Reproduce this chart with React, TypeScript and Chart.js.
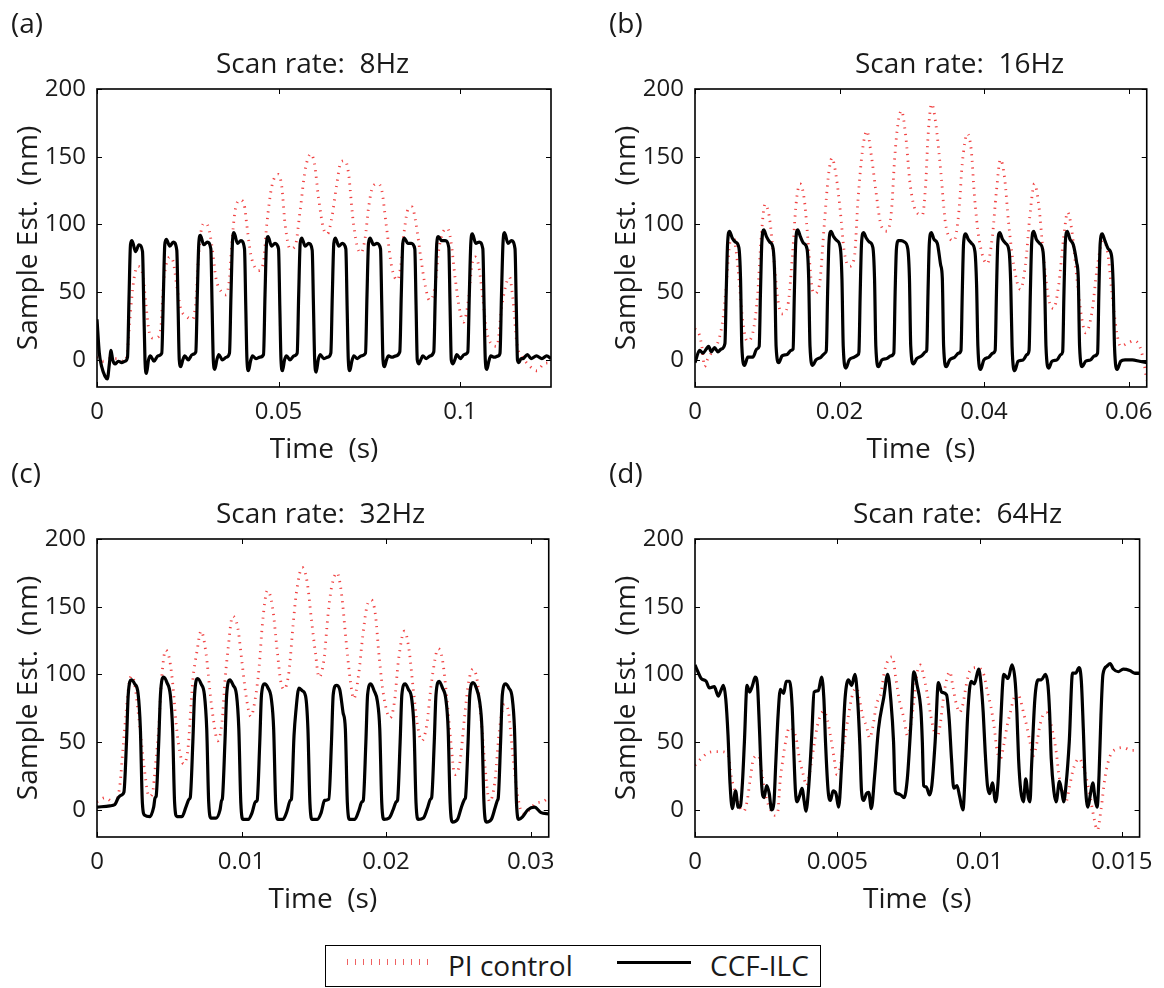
import React, { useEffect, useRef } from "react";
import { Chart, registerables } from "chart.js";
Chart.register(...registerables);

const FONT = "'Open Sans', 'Noto Sans', sans-serif";
const TEXT = "#1a1a1a";
const RED = "rgba(238, 40, 40, 0.88)";

const Y_TICKS = [0, 50, 100, 150, 200];
const Y_LABELS = ["0", "50", "100", "150", "200"];
const Y_MIN = -20;
const Y_MAX = 200;
const X_TITLE = "Time  (s)";
const Y_TITLE = "Sample Est.  (nm)";

// ---------- panel (a) ----------
const A_TITLE = "Scan rate:  8Hz";
const A_XMAX = 0.125;
const A_XTICKS = [0, 0.05, 0.1];
const A_XLABELS = ["0", "0.05", "0.1"];
const A_PI: [number, number][] = [
  [0,2],[0.00174,-1],[0.00358,1],[0.00542,1],[0.00725,-1],[0.00817,2],[0.00891,25],[0.00955,45],[0.01019,60],[0.01111,69],[0.01203,68],[0.01276,60],[0.0135,40],[0.01442,20],[0.01552,16],[0.0169,17],[0.01763,25],[0.01827,55],[0.01901,70],[0.02011,76],[0.02103,72],[0.02195,55],[0.02305,38],[0.0247,32],[0.02636,30],[0.02727,45],[0.02792,75],[0.02865,95],[0.02975,101],[0.03067,98],[0.03159,85],[0.03278,60],[0.03434,50],[0.03554,48],[0.03646,60],[0.0371,85],[0.03802,110],[0.0394,118],[0.0405,115],[0.04123,100],[0.04233,78],[0.04353,68],[0.04445,66],[0.04582,72],[0.04674,100],[0.04812,128],[0.04996,137],[0.05087,128],[0.05179,100],[0.05317,82],[0.05455,84],[0.05592,110],[0.0573,140],[0.05886,152],[0.05987,145],[0.06098,120],[0.06235,97],[0.06345,93],[0.06465,105],[0.06603,130],[0.06713,146],[0.06832,147],[0.06924,138],[0.07043,105],[0.07154,85],[0.07264,79],[0.07383,90],[0.07475,112],[0.07594,128],[0.07723,130],[0.07842,125],[0.07962,100],[0.08118,68],[0.08274,59],[0.08366,70],[0.08458,95],[0.08577,112],[0.08669,113],[0.08788,100],[0.08917,75],[0.09036,55],[0.09155,44],[0.09312,55],[0.09403,80],[0.09541,95],[0.09651,97],[0.09743,88],[0.09863,60],[0.1,35],[0.10092,28],[0.1023,45],[0.10322,70],[0.10414,76],[0.10505,70],[0.10625,45],[0.10735,20],[0.1101,10],[0.11148,40],[0.11286,58],[0.11359,61],[0.11451,45],[0.11561,12],[0.11699,3],[0.11929,-5],[0.12112,-8],[0.12296,-3],[0.125,-2],
];
const A_ILC: [number, number][] = [
  [0,30],[0.00064,5],[0.00129,-5],[0.0022,-12],[0.00285,-14],[0.0034,-3],[0.00386,7],[0.00432,0],[0.00496,-3],[0.00588,-1],[0.0068,-2],[0.0077,-1],
  [0.0084,2],[0.00881,45],[0.00922,85],[0.00964,88],[0.0106,80],[0.01156,85],[0.01253,80],[0.01288,40],[0.01321,0],[0.01363,-10],[0.01418,0],[0.01473,3],[0.01569,-1],[0.01679,3],
  [0.01784,5],[0.01825,45],[0.01866,85],[0.01908,89],[0.02004,84],[0.021,87],[0.02197,81],[0.02232,40],[0.02265,0],[0.02307,-5],[0.02362,0],[0.02417,3],[0.02513,0],[0.02623,4],
  [0.02721,6],[0.02762,48],[0.02803,86],[0.02845,92],[0.02941,85],[0.03037,87],[0.03134,82],[0.03169,40],[0.03202,0],[0.03244,-7],[0.03299,0],[0.03354,4],[0.0345,0],[0.0356,2],
  [0.03648,5],[0.03689,48],[0.0373,87],[0.03772,94],[0.03868,86],[0.03964,88],[0.04061,82],[0.04096,40],[0.04129,0],[0.04171,-8],[0.04226,-1],[0.04281,3],[0.04377,1],[0.04487,2],
  [0.04585,4],[0.04626,48],[0.04667,86],[0.04709,91],[0.04805,84],[0.04901,86],[0.04998,82],[0.05033,40],[0.05066,0],[0.05108,-8],[0.05163,0],[0.05218,3],[0.05314,0],[0.05424,3],
  [0.05512,5],[0.05553,48],[0.05594,86],[0.05636,90],[0.05732,84],[0.05828,86],[0.05925,81],[0.0596,40],[0.05993,0],[0.06035,-9],[0.0609,0],[0.06145,4],[0.06241,1],[0.06351,2],
  [0.06438,5],[0.06479,48],[0.0652,86],[0.06562,90],[0.06658,84],[0.06754,86],[0.06851,82],[0.06886,40],[0.06919,0],[0.06961,-8],[0.07016,-1],[0.07071,3],[0.07167,1],[0.07277,3],
  [0.07393,5],[0.07434,48],[0.07475,86],[0.07517,90],[0.07613,85],[0.07709,86],[0.07806,82],[0.07841,40],[0.07874,0],[0.07916,-5],[0.07971,0],[0.08026,3],[0.08122,2],[0.08232,3],
  [0.08337,6],[0.08378,48],[0.08419,86],[0.08461,90],[0.08557,86],[0.08653,86],[0.0875,82],[0.08785,40],[0.08818,0],[0.0886,-3],[0.08915,0],[0.0897,3],[0.09066,1],[0.09176,3],
  [0.09273,6],[0.09314,48],[0.09355,86],[0.09397,91],[0.09493,88],[0.09589,88],[0.09686,83],[0.09721,40],[0.09754,0],[0.09796,-3],[0.09851,0],[0.09906,4],[0.10002,1],[0.10112,4],
  [0.1021,6],[0.10251,48],[0.10292,86],[0.10334,93],[0.1043,86],[0.10526,87],[0.10623,82],[0.10658,40],[0.10691,0],[0.10733,-7],[0.10788,-1],[0.10843,3],[0.10939,2],[0.11049,3],
  [0.11096,5],[0.11137,48],[0.11178,86],[0.1122,94],[0.11316,86],[0.11412,88],[0.11509,82],[0.11544,40],[0.11577,0],[0.11619,-2],[0.11674,1],[0.11729,1],[0.1185,4],[0.1195,1],[0.121,3],[0.1225,1],[0.1238,3],[0.125,1],
];

// ---------- panel (b) ----------
const B_TITLE = "Scan rate:  16Hz";
const B_XMAX = 0.0625;
const B_XTICKS = [0, 0.02, 0.04, 0.06];
const B_XLABELS = ["0", "0.02", "0.04", "0.06"];
const B_PI: [number, number][] = [
  [0,23],[0.00064,18],[0.00097,9],[0.00133,-5],[0.0017,0],[0.00225,5],[0.00294,10],[0.0034,17],[0.00386,30],[0.00432,55],[0.00478,85],[0.00524,92],[0.0057,80],[0.00616,55],[0.00662,28],[0.00722,14],[0.008,20],[0.00869,50],[0.00915,90],[0.0097,115],[0.0103,105],[0.0109,75],[0.01145,45],[0.012,34],[0.01283,40],[0.01352,80],[0.01398,115],[0.01453,130],[0.01513,118],[0.01568,85],[0.01614,55],[0.01651,49],[0.0172,55],[0.01789,100],[0.01844,135],[0.01895,149],[0.01955,135],[0.0201,110],[0.02065,80],[0.02134,69],[0.02203,75],[0.02258,120],[0.02318,155],[0.02378,169],[0.02442,150],[0.02502,125],[0.02571,100],[0.02654,95],[0.02718,110],[0.02764,150],[0.0281,175],[0.02856,184],[0.02916,165],[0.02976,130],[0.03054,110],[0.03146,107],[0.03192,130],[0.03224,165],[0.03274,189],[0.0333,175],[0.03399,140],[0.03468,100],[0.03583,88],[0.03652,110],[0.03698,145],[0.03767,167],[0.03822,155],[0.03868,120],[0.03928,90],[0.04043,71],[0.04112,90],[0.04171,125],[0.04226,148],[0.04282,135],[0.04341,100],[0.0441,70],[0.04502,52],[0.04571,70],[0.0464,110],[0.04696,130],[0.04755,115],[0.04824,75],[0.04893,45],[0.04962,38],[0.05031,55],[0.051,90],[0.05155,109],[0.05215,95],[0.05284,60],[0.05353,30],[0.05404,20],[0.05491,35],[0.05569,70],[0.05643,88],[0.05707,80],[0.05767,50],[0.05836,20],[0.05887,10],[0.05974,12],[0.06066,14],[0.06135,12],[0.06204,0],[0.0625,-15],
];
const B_ILC: [number, number][] = [
  [0,-2],[0.00064,7],[0.0011,5],[0.00156,8],[0.00189,10],[0.00225,6],[0.00271,9],[0.00317,6],[0.00363,8],
  [0.00414,12],[0.00432,50],[0.0045,85],[0.00478,95],[0.00515,90],[0.00561,87],[0.00607,83],[0.0063,60],[0.00648,10],[0.00685,-4],[0.00731,2],[0.008,2],[0.00855,8],
  [0.00888,10],[0.00906,50],[0.00924,86],[0.00952,96],[0.00989,91],[0.01035,87],[0.01081,82],[0.01104,60],[0.01122,10],[0.01159,-2],[0.01205,3],[0.01274,4],[0.01329,7],
  [0.01357,8],[0.01375,50],[0.01393,86],[0.01421,96],[0.01458,91],[0.01504,86],[0.0155,82],[0.01573,60],[0.01591,10],[0.01628,-4],[0.01674,0],[0.01743,2],[0.01798,5],
  [0.01817,7],[0.01835,50],[0.01853,86],[0.01881,95],[0.01918,91],[0.01964,88],[0.0201,83],[0.02033,60],[0.02051,10],[0.02088,-6],[0.02134,0],[0.02203,2],[0.02258,4],
  [0.02268,6],[0.02286,50],[0.02304,86],[0.02332,94],[0.02369,90],[0.02415,87],[0.02461,83],[0.02484,60],[0.02502,10],[0.02539,-5],[0.02585,0],[0.02654,1],[0.02709,3],
  [0.02751,5],[0.02769,50],[0.02787,82],[0.02815,88],[0.02852,88],[0.02898,87],[0.02944,82],[0.02967,60],[0.02985,10],[0.03022,-3],[0.03068,1],[0.03137,3],[0.03192,6],
  [0.03206,7],[0.03224,50],[0.03242,86],[0.0327,94],[0.03307,89],[0.03353,86],[0.03399,70],[0.03422,60],[0.0344,10],[0.03477,-5],[0.03523,0],[0.03592,2],[0.03647,5],
  [0.0368,7],[0.03698,50],[0.03716,86],[0.03744,93],[0.03781,89],[0.03827,86],[0.03873,80],[0.03896,55],[0.03914,10],[0.03951,-7],[0.03997,0],[0.04066,2],[0.04121,5],
  [0.04153,7],[0.04171,50],[0.04189,86],[0.04217,94],[0.04254,89],[0.043,86],[0.04346,80],[0.04369,55],[0.04387,10],[0.04424,-8],[0.0447,-1],[0.04539,0],[0.04594,4],
  [0.04622,7],[0.0464,50],[0.04658,86],[0.04686,95],[0.04723,89],[0.04769,86],[0.04815,80],[0.04838,55],[0.04856,10],[0.04893,-6],[0.04939,-1],[0.05008,0],[0.05063,4],
  [0.05087,6],[0.05105,50],[0.05123,86],[0.05151,95],[0.05188,89],[0.05234,85],[0.0528,72],[0.05303,60],[0.05321,10],[0.05358,-5],[0.05404,-1],[0.05473,0],[0.05528,3],
  [0.0557,5],[0.05588,50],[0.05606,86],[0.05634,93],[0.05671,88],[0.05717,82],[0.05763,77],[0.05786,55],[0.05804,10],[0.05841,-7],[0.0589,-1],[0.0595,0],[0.0605,0],[0.0615,-1],[0.0625,-2],
];

// ---------- panel (c) ----------
const C_TITLE = "Scan rate:  32Hz";
const C_XMAX = 0.03125;
const C_XTICKS = [0, 0.01, 0.02, 0.03];
const C_XLABELS = ["0", "0.01", "0.02", "0.03"];
const C_PI: [number, number][] = [
  [0,6],[0.00055,9],[0.00124,5],[0.00158,18],[0.00181,47],[0.00204,75],[0.00223,94],[0.00239,99],[0.00262,92],[0.00284,73],[0.00307,50],[0.0033,28],[0.0036,10],[0.00383,12],[0.00406,35],[0.00427,60],[0.00445,94],[0.00475,118],[0.00502,111],[0.00525,92],[0.00548,63],[0.00571,44],[0.00599,34],[0.00629,45],[0.00663,96],[0.0069,116],[0.0072,132],[0.00755,115],[0.00782,87],[0.00805,67],[0.00835,51],[0.00865,65],[0.00885,95],[0.00904,116],[0.00938,143],[0.00973,135],[0.01002,110],[0.0103,85],[0.01064,69],[0.01099,85],[0.01122,106],[0.01145,138],[0.01179,162],[0.01214,150],[0.01248,116],[0.01271,95],[0.01294,89],[0.01328,102],[0.01356,136],[0.01379,160],[0.0142,179],[0.01454,168],[0.01484,140],[0.01512,115],[0.01535,98],[0.01569,110],[0.01599,145],[0.01622,164],[0.01661,175],[0.01691,160],[0.01723,125],[0.01753,95],[0.01776,82],[0.0181,100],[0.01838,128],[0.01867,150],[0.01897,155],[0.01925,145],[0.01952,113],[0.01982,85],[0.02028,68],[0.02058,80],[0.02085,110],[0.02127,132],[0.02159,118],[0.02189,88],[0.02218,62],[0.02246,51],[0.0228,62],[0.02315,95],[0.02361,119],[0.02388,112],[0.02418,85],[0.02448,50],[0.02475,26],[0.0251,35],[0.02544,70],[0.02572,95],[0.02601,104],[0.02631,95],[0.02659,65],[0.02686,30],[0.02716,6],[0.02751,20],[0.02785,60],[0.02819,78],[0.02847,72],[0.02877,40],[0.02911,10],[0.02945,-3],[0.02991,0],[0.03037,5],[0.03083,6],[0.03125,9],
];
const C_ILC: [number, number][] = [
  [0,2],[0.00089,3],[0.00124,4],[0.00147,9],[0.0017,11],
  [0.00186,13],[0.00204,50],[0.00216,85],[0.00238,96],[0.00261,93],[0.00284,86],[0.003,60],[0.00314,5],[0.0033,-4],[0.00365,-5],[0.00392,2],[0.00402,9],
  [0.00409,10],[0.00427,50],[0.00439,85],[0.00461,98],[0.00484,94],[0.00507,85],[0.00523,60],[0.00537,5],[0.00553,-5],[0.00588,-5],[0.00615,2],[0.00638,8],
  [0.00645,9],[0.00663,50],[0.00675,85],[0.00697,97],[0.0072,93],[0.00743,85],[0.00759,60],[0.00773,5],[0.00789,-6],[0.00824,-6],[0.00851,0],[0.00862,7],
  [0.00867,8],[0.00885,50],[0.00897,85],[0.00919,96],[0.00942,92],[0.00965,85],[0.00981,60],[0.00995,5],[0.01011,-7],[0.01046,-7],[0.01073,-2],[0.01096,6],
  [0.01108,7],[0.01126,50],[0.01138,85],[0.0116,93],[0.01183,90],[0.01206,82],[0.01222,60],[0.01236,5],[0.01252,-7],[0.01287,-7],[0.01314,-1],[0.01337,7],
  [0.01345,8],[0.01363,55],[0.01375,72],[0.01397,90],[0.0142,88],[0.01443,84],[0.01459,60],[0.01473,5],[0.01489,-7],[0.01524,-7],[0.01551,-2],[0.01574,7],
  [0.01604,8],[0.01622,50],[0.01634,85],[0.01656,92],[0.01679,89],[0.01702,72],[0.01718,60],[0.01732,5],[0.01748,-7],[0.01783,-7],[0.0181,-1],[0.01833,6],
  [0.01842,7],[0.0186,50],[0.01872,85],[0.01894,93],[0.01917,88],[0.0194,80],[0.01956,60],[0.0197,5],[0.01986,-7],[0.02021,-6],[0.02048,0],[0.02071,6],
  [0.02079,7],[0.02097,50],[0.02109,85],[0.02131,93],[0.02154,89],[0.02177,82],[0.02193,60],[0.02207,5],[0.02223,-7],[0.02258,-6],[0.02285,1],[0.02308,8],
  [0.02315,9],[0.02333,50],[0.02345,85],[0.02367,95],[0.0239,90],[0.02413,82],[0.02429,60],[0.02443,5],[0.02459,-9],[0.02494,-7],[0.02521,2],[0.02544,8],
  [0.02549,9],[0.02567,50],[0.02579,85],[0.02601,94],[0.02624,90],[0.02647,80],[0.02663,60],[0.02677,5],[0.02693,-9],[0.02728,-7],[0.02755,2],[0.0277,7],
  [0.02776,9],[0.02792,50],[0.02804,85],[0.02826,93],[0.02849,90],[0.02872,83],[0.02888,60],[0.02902,5],[0.02918,-7],[0.02945,-5],[0.0298,0],[0.03026,2],[0.03072,-2],[0.03125,-3],
];

// ---------- panel (d) ----------
const D_TITLE = "Scan rate:  64Hz";
const D_XMAX = 0.015625;
const D_XTICKS = [0, 0.005, 0.01, 0.015];
const D_XLABELS = ["0", "0.005", "0.01", "0.015"];
const D_PI: [number, number][] = [
  [0,33],[0.000218,38],[0.000448,42],[0.000678,43],[0.000908,43],[0.001115,42],[0.001196,38],[0.001253,28],[0.001311,21],[0.00146,10],[0.001598,1],[0.001713,-1],[0.001828,6],[0.001943,23],[0.002058,38],[0.00223,40],[0.002311,33],[0.00238,23],[0.00246,13],[0.002575,4],[0.00269,-1],[0.002805,-4],[0.00292,0],[0.002978,18],[0.003093,38],[0.003208,53],[0.003323,61],[0.003438,59],[0.003553,53],[0.003668,38],[0.003783,28],[0.00392,18],[0.004035,28],[0.004185,48],[0.0043,62],[0.004415,70],[0.00453,73],[0.004645,67],[0.00476,55],[0.004875,40],[0.00499,26],[0.005105,32],[0.00522,47],[0.005335,62],[0.00545,77],[0.005565,87],[0.00568,90],[0.005794,80],[0.005909,68],[0.006024,62],[0.006139,53],[0.006254,62],[0.006369,77],[0.006542,87],[0.006657,102],[0.006829,112],[0.006944,113],[0.007059,97],[0.007174,82],[0.007347,67],[0.007462,55],[0.007577,62],[0.007691,80],[0.007806,101],[0.007921,107],[0.008036,99],[0.008151,87],[0.008266,72],[0.008381,60],[0.008496,53],[0.008611,62],[0.008726,82],[0.008841,96],[0.008956,102],[0.009071,90],[0.009186,78],[0.009301,72],[0.009416,78],[0.009531,92],[0.009646,102],[0.009876,105],[0.010048,104],[0.010163,99],[0.010278,87],[0.010393,77],[0.010508,62],[0.010623,43],[0.010738,38],[0.010853,48],[0.010968,62],[0.011083,72],[0.011198,82],[0.011313,87],[0.011428,82],[0.011543,72],[0.011658,62],[0.011773,50],[0.011888,40],[0.012003,48],[0.012118,62],[0.012233,70],[0.012348,72],[0.012463,67],[0.012578,57],[0.012693,43],[0.012808,23],[0.012923,13],[0.013038,6],[0.013153,16],[0.013268,28],[0.013382,35],[0.013497,38],[0.01367,30],[0.013842,15],[0.014015,-5],[0.014141,-15],[0.014268,0],[0.014417,25],[0.01459,40],[0.01482,45],[0.01505,46],[0.015337,44],[0.015625,44],
];
const D_ILC: [number, number][] = [
  [0,107],[0.000103,102],[0.000218,97],[0.000391,95],[0.000506,90],[0.000678,91],[0.000816,84],[0.000908,88],[0.001,92],[0.001081,82],[0.001161,55],[0.00123,20],[0.001311,1],[0.001426,14],[0.001518,2],[0.001598,3],[0.001667,20],[0.001736,50],[0.001828,92],[0.00192,87],[0.002023,92],[0.002115,98],[0.002196,92],[0.002265,60],[0.002345,18],[0.002426,9],[0.002518,18],[0.00261,12],[0.00269,0],[0.002771,5],[0.00284,35],[0.00292,70],[0.003001,89],[0.003116,86],[0.003208,95],[0.003323,95],[0.003415,76],[0.003461,50],[0.00353,14],[0.003587,6],[0.003668,10],[0.00376,16],[0.00384,6],[0.003897,-1],[0.003989,15],[0.004104,55],[0.004185,87],[0.004334,88],[0.004449,98],[0.00453,82],[0.004587,50],[0.004679,14],[0.00476,7],[0.004852,14],[0.004955,12],[0.005047,2],[0.005162,37],[0.005277,83],[0.005392,96],[0.005507,92],[0.005622,100],[0.005714,82],[0.005794,48],[0.005852,14],[0.005932,7],[0.006024,12],[0.006105,13],[0.006197,1],[0.006312,25],[0.00645,60],[0.006634,83],[0.006772,100],[0.006887,80],[0.006979,50],[0.007036,14],[0.007117,12],[0.007232,11],[0.007347,9],[0.007462,23],[0.007577,60],[0.007691,102],[0.007806,92],[0.007944,72],[0.00799,50],[0.008036,18],[0.008128,17],[0.008243,11],[0.008324,18],[0.008439,50],[0.008554,94],[0.008669,87],[0.008841,85],[0.008933,67],[0.009014,38],[0.009094,16],[0.009209,18],[0.009301,10],[0.009416,0],[0.009508,33],[0.009588,72],[0.009703,95],[0.009818,93],[0.009968,104],[0.010048,94],[0.010129,72],[0.010198,43],[0.010278,18],[0.010359,12],[0.010451,20],[0.010566,6],[0.010658,23],[0.010738,62],[0.010853,100],[0.011003,97],[0.011141,107],[0.011256,94],[0.011313,72],[0.011371,38],[0.011451,14],[0.011543,6],[0.011623,23],[0.011715,9],[0.011773,6],[0.01183,33],[0.011945,82],[0.01206,96],[0.012175,96],[0.012313,100],[0.012405,92],[0.012463,72],[0.01252,38],[0.012612,14],[0.012693,6],[0.012808,21],[0.012888,14],[0.012957,6],[0.013038,18],[0.013153,50],[0.013268,101],[0.013382,101],[0.013497,105],[0.013578,95],[0.013647,60],[0.013716,20],[0.013808,2],[0.0139,12],[0.01398,20],[0.014061,8],[0.01413,2],[0.014199,25],[0.014268,70],[0.014337,100],[0.014475,106],[0.01459,108],[0.014705,104],[0.014877,102],[0.01505,104],[0.01528,103],[0.015452,101],[0.015625,101],
];

const LEGEND_LABELS = ["PI control", "CCF-ILC"];

type PanelCfg = {
  tag: string;
  title: string;
  titleLeft: number;
  xmax: number;
  xticks: number[];
  xlabels: string[];
  pi: [number, number][];
  ilc: [number, number][];
  left: number;
  top: number;
};

const PANELS: PanelCfg[] = [
  { tag: "(a)", title: A_TITLE, titleLeft: 216, xmax: A_XMAX, xticks: A_XTICKS, xlabels: A_XLABELS, pi: A_PI, ilc: A_ILC, left: 0, top: 0 },
  { tag: "(b)", title: B_TITLE, titleLeft: 855, xmax: B_XMAX, xticks: B_XTICKS, xlabels: B_XLABELS, pi: B_PI, ilc: B_ILC, left: 598, top: 0 },
  { tag: "(c)", title: C_TITLE, titleLeft: 216, xmax: C_XMAX, xticks: C_XTICKS, xlabels: C_XLABELS, pi: C_PI, ilc: C_ILC, left: 0, top: 450 },
  { tag: "(d)", title: D_TITLE, titleLeft: 853, xmax: D_XMAX, xticks: D_XTICKS, xlabels: D_XLABELS, pi: D_PI, ilc: D_ILC, left: 598, top: 450 },
];

const CW = 566;
const CH = 480;

const framePlugin = {
  id: "frameTicks",
  afterDatasetsDraw(chart: any) {
    const { ctx, chartArea: a, scales } = chart;
    const L = 5;
    ctx.save();
    ctx.strokeStyle = "#000";
    ctx.lineWidth = 1;
    ctx.beginPath();
    scales.x.ticks.forEach((t: any) => {
      const p = Math.round(scales.x.getPixelForValue(t.value)) + 0.5;
      ctx.moveTo(p, a.bottom);
      ctx.lineTo(p, a.bottom - L);
      ctx.moveTo(p, a.top);
      ctx.lineTo(p, a.top + L);
    });
    scales.y.ticks.forEach((t: any) => {
      const p = Math.round(scales.y.getPixelForValue(t.value)) + 0.5;
      ctx.moveTo(a.left, p);
      ctx.lineTo(a.left + L, p);
      ctx.moveTo(a.right, p);
      ctx.lineTo(a.right - L, p);
    });
    ctx.stroke();
    ctx.lineWidth = 1.6;
    ctx.strokeRect(a.left, a.top, a.right - a.left, a.bottom - a.top);
    ctx.restore();
  },
};

function Panel({ cfg }: { cfg: PanelCfg }) {
  const ref = useRef<HTMLCanvasElement>(null);
  useEffect(() => {
    const chart = new Chart(ref.current as HTMLCanvasElement, {
      type: "line",
      data: {
        datasets: [
          {
            label: LEGEND_LABELS[0],
            data: cfg.pi.map(([x, y]) => ({ x, y })),
            borderColor: RED,
            borderWidth: 2.8,
            borderDash: [1.2, 5.5],
            pointRadius: 0,
            cubicInterpolationMode: "monotone",
            order: 2,
          },
          {
            label: LEGEND_LABELS[1],
            data: cfg.ilc.map(([x, y]) => ({ x, y })),
            borderColor: "#000",
            borderWidth: 3.2,
            pointRadius: 0,
            cubicInterpolationMode: "monotone",
            order: 1,
          },
        ],
      },
      options: {
        responsive: false,
        animation: false,
        devicePixelRatio: 1,
        layout: { padding: { top: 89, left: 0, right: CW - 551, bottom: 0 } },
        plugins: {
          legend: { display: false },
          tooltip: { enabled: false },
          title: { display: false },
        },
        scales: {
          x: {
            type: "linear",
            min: 0,
            max: cfg.xmax,
            grid: { display: false, drawTicks: false },
            border: { display: false },
            afterBuildTicks: (s: any) => {
              s.ticks = cfg.xticks.map((v) => ({ value: v }));
            },
            afterFit: (s: any) => {
              s.height = CH - 387;
            },
            ticks: {
              color: TEXT,
              font: { family: FONT, size: 24 },
              padding: 11,
              maxRotation: 0,
              autoSkip: false,
              callback: (v: any) => {
                const i = cfg.xticks.indexOf(Number(v));
                return i >= 0 ? cfg.xlabels[i] : "";
              },
            },
            title: {
              display: true,
              text: X_TITLE,
              color: TEXT,
              font: { family: FONT, size: 28 },
              padding: { top: 0, bottom: 13 },
            },
          },
          y: {
            type: "linear",
            min: Y_MIN,
            max: Y_MAX,
            grid: { display: false, drawTicks: false },
            border: { display: false },
            afterBuildTicks: (s: any) => {
              s.ticks = Y_TICKS.map((v) => ({ value: v }));
            },
            afterFit: (s: any) => {
              s.width = 97;
            },
            ticks: {
              color: TEXT,
              font: { family: FONT, size: 24 },
              padding: 11,
              callback: (v: any) => {
                const i = Y_TICKS.indexOf(Number(v));
                return i >= 0 ? Y_LABELS[i] : "";
              },
            },
            title: {
              display: true,
              text: Y_TITLE,
              color: TEXT,
              font: { family: FONT, size: 28 },
              padding: { top: 12, bottom: 0 },
            },
          },
        },
      } as any,
      plugins: [framePlugin],
    });
    return () => chart.destroy();
  }, [cfg]);
  return (
    <canvas
      ref={ref}
      width={CW}
      height={CH}
      style={{ position: "absolute", left: cfg.left, top: cfg.top, width: CW, height: CH }}
    />
  );
}

export default function App() {
  return (
    <div
      style={{
        position: "absolute",
        left: 0,
        top: 0,
        width: 1164,
        height: 988,
        background: "#fff",
        fontFamily: FONT,
        color: TEXT,
        overflow: "hidden",
      }}
    >
      {PANELS.map((p) => (
        <Panel key={p.tag} cfg={p} />
      ))}
      {PANELS.map((p) => (
        <div
          key={p.tag + "-lbl"}
          style={{ position: "absolute", left: p.left + 11, top: p.top + 8, fontSize: 28, lineHeight: "28px" }}
        >
          {p.tag}
        </div>
      ))}
      {PANELS.map((p) => (
        <div
          key={p.tag + "-title"}
          style={{
            position: "absolute",
            left: p.titleLeft,
            top: p.top + 48,
            fontSize: 28,
            lineHeight: "28px",
            whiteSpace: "pre",
          }}
        >
          {p.title}
        </div>
      ))}
      <div
        style={{
          position: "absolute",
          left: 325,
          top: 945,
          width: 496,
          height: 42,
          border: "1.5px solid #000",
          boxSizing: "border-box",
        }}
      >
        <div
          style={{
            position: "absolute",
            left: 21,
            top: 13,
            width: 82,
            height: 6,
            background:
              "repeating-linear-gradient(90deg, rgba(236,70,70,0.85) 0px, rgba(236,70,70,0.85) 1.2px, transparent 1.2px, transparent 8px)",
          }}
        />
        <div style={{ position: "absolute", left: 122, top: 5, fontSize: 28, lineHeight: "28px", whiteSpace: "nowrap" }}>
          {LEGEND_LABELS[0]}
        </div>
        <div style={{ position: "absolute", left: 291, top: 15, width: 74, height: 3, background: "#000" }} />
        <div style={{ position: "absolute", left: 384, top: 5, fontSize: 28, lineHeight: "28px", whiteSpace: "nowrap" }}>
          {LEGEND_LABELS[1]}
        </div>
      </div>
    </div>
  );
}
